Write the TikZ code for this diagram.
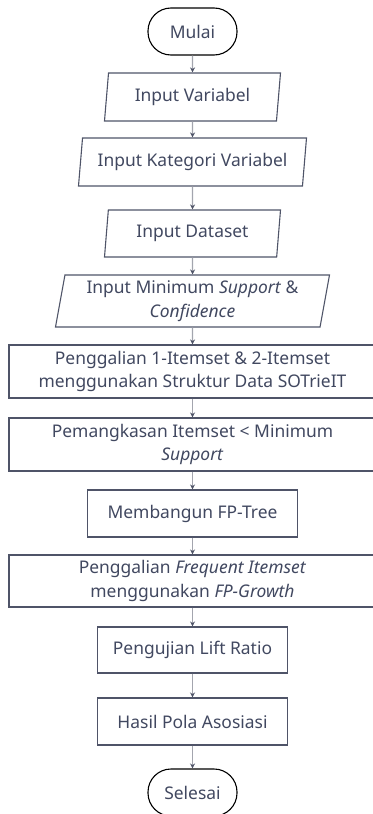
\documentclass[tikz,border=0pt]{standalone}
\usepackage{fontspec}
\setmainfont{Noto Sans}
\usetikzlibrary{shapes.geometric,arrows.meta}
\definecolor{txt}{HTML}{414860}
\definecolor{edgec}{HTML}{4F5468}
\definecolor{arr}{HTML}{A3A5AE}
\begin{document}
\begin{tikzpicture}[x=1bp,y=-1bp,
  base/.style={text=txt, font=\fontsize{17.5}{24}\selectfont, align=center, inner sep=0pt, line width=1.1bp},
  term/.style={base, draw=black, rounded corners=23bp, minimum width=89bp, minimum height=47bp},
  io/.style={base, draw=edgec, trapezium, trapezium left angle=77, trapezium right angle=103, trapezium stretches body, minimum height=48bp},
  proc/.style={base, draw=edgec, rectangle, minimum height=47bp},
  flow/.style={draw=arr, line width=1.1bp, -{Stealth[length=5bp,width=5bp,color=edgec]}}
]
\useasboundingbox (0,0) rectangle (372,814);
\node[term] (mulai) at (192.5,31.5) {Mulai};
\node[io, minimum width=176bp] (ivar) at (192.5,97) {Input Variabel};
\node[io, minimum width=228bp] (ikat) at (192.5,162) {Input Kategori Variabel};
\node[io, minimum width=176bp, minimum height=47bp] (idata) at (192.5,233.5) {Input Dataset};
\node[io, minimum width=274bp, minimum height=52bp] (imin) at (192.5,301) {Input Minimum \textit{Support} \&\\\textit{Confidence}};
\node[proc, minimum width=367bp, minimum height=53bp] (p1) at (192.5,371.5) {Penggalian 1-Itemset \& 2-Itemset\\menggunakan Struktur Data SOTrieIT};
\node[proc, minimum width=367bp, minimum height=53bp] (p2) at (192.5,444.5) {Pemangkasan Itemset < Minimum\\\textit{Support}};
\node[proc, minimum width=210bp, minimum height=47bp] (p3) at (192.5,513.5) {Membangun FP-Tree};
\node[proc, minimum width=367bp, minimum height=52bp] (p4) at (192.5,581) {Penggalian \textit{Frequent Itemset}\\menggunakan \textit{FP-Growth}};
\node[proc, minimum width=190bp, minimum height=46bp] (p5) at (192.5,650) {Pengujian Lift Ratio};
\node[proc, minimum width=190bp, minimum height=47bp] (p6) at (192.5,721.5) {Hasil Pola Asosiasi};
\node[term] (selesai) at (192.5,792.5) {Selesai};
\draw[flow] (mulai) -- (ivar);
\draw[flow] (ivar) -- (ikat);
\draw[flow] (ikat) -- (idata);
\draw[flow] (idata) -- (imin);
\draw[flow] (imin) -- (p1);
\draw[flow] (p1) -- (p2);
\draw[flow] (p2) -- (p3);
\draw[flow] (p3) -- (p4);
\draw[flow] (p4) -- (p5);
\draw[flow] (p5) -- (p6);
\draw[flow] (p6) -- (selesai);
\end{tikzpicture}
\end{document}
